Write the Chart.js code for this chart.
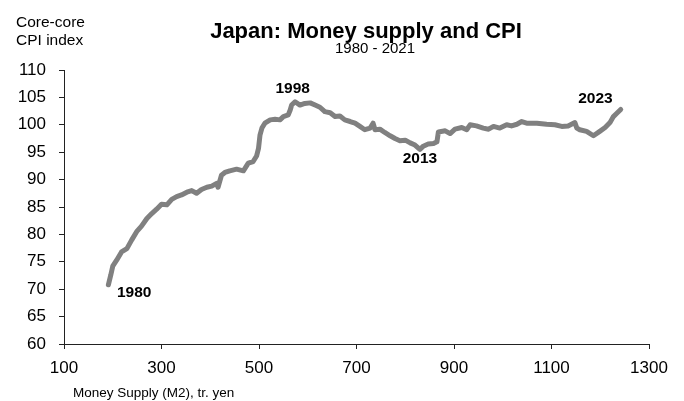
<!DOCTYPE html>
<html>
<head>
<meta charset="utf-8">
<script src="https://cdn.jsdelivr.net/npm/chart.js@4"></script>
<style>
  html, body { margin: 0; padding: 0; background: #fff; }
  #wrap { width: 684px; height: 401px; }
</style>
</head>
<body>
<div id="wrap"><canvas id="cpiChart"></canvas></div>
<script>
// Money supply M2 (tr. yen) against core-core CPI index
const m2 = [191, 196, 200, 208, 218, 229, 239, 249, 259, 270, 280, 290, 300, 311, 321, 331, 341, 352, 362, 372,
    382, 393, 403, 413, 416, 423, 430, 440, 454, 468, 478, 488, 495, 499, 502, 506, 512, 523, 533, 543,
    550, 560, 564, 567, 574, 584, 594, 605, 615, 625, 635, 646, 656, 666, 676, 687, 697, 707, 717, 728,
    734, 738, 748, 758, 769, 779, 789, 800, 810, 820, 830, 837, 847, 858, 865, 868, 882, 892, 902, 916,
    926, 933, 946, 960, 971, 981, 994, 1008, 1018, 1029, 1039, 1049, 1070, 1090, 1107, 1121, 1134, 1148, 1152, 1158,
    1172, 1186, 1199, 1210, 1220, 1227, 1234, 1242];
const cpi = [70.8, 72.6, 74.2, 75.3, 76.8, 77.4, 79.0, 80.5, 81.5, 82.9, 83.8, 84.6, 85.5, 85.4, 86.4, 86.9, 87.2, 87.7, 88.0, 87.5,
    88.2, 88.6, 88.8, 89.3, 88.6, 90.8, 91.3, 91.6, 91.9, 91.6, 93.0, 93.3, 94.3, 95.7, 98.1, 99.4, 100.3, 100.9, 101.0, 100.9,
    101.5, 101.8, 102.7, 103.6, 104.2, 103.6, 103.9, 104.0, 103.6, 103.2, 102.4, 102.2, 101.5, 101.6, 100.9, 100.6, 100.3, 99.7, 99.1, 99.4,
    100.3, 99.1, 99.2, 98.6, 98.0, 97.5, 97.1, 97.2, 96.7, 96.3, 95.5, 96.1, 96.5, 96.6, 96.9, 98.7, 98.9, 98.4, 99.2, 99.5,
    99.1, 100.0, 99.8, 99.4, 99.2, 99.7, 99.4, 100.0, 99.8, 100.1, 100.6, 100.3, 100.3, 100.1, 100.0, 99.7, 99.8, 100.4, 99.4, 99.1,
    98.8, 98.0, 98.8, 99.5, 100.4, 101.5, 102.1, 102.8];

// Year labels and where they sit (in data units)
const yearLabels = ['1980', '1998', '2013', '2023'];
const yearLabelX = [244, 569, 830, 1190];
const yearLabelY = [68.6, 105.75, 93.0, 104.0];

const xTicks = [100, 300, 500, 700, 900, 1100, 1300];

const FONT = "'Liberation Sans', Arial, sans-serif";

const textPlugin = {
    id: 'textPlugin',
    afterDraw(chart) {
        const ctx = chart.ctx;
        const xs = chart.scales.x;
        const ys = chart.scales.y;
        ctx.save();
        ctx.fillStyle = '#000';
        ctx.textBaseline = 'alphabetic';

        // Title and subtitle
        ctx.textAlign = 'center';
        ctx.font = 'bold 22px ' + FONT;
        ctx.fillText('Japan: Money supply and CPI', 366, 38);
        ctx.font = '15px ' + FONT;
        ctx.fillText('1980 - 2021', 375, 53);

        // Axis titles
        ctx.textAlign = 'left';
        ctx.font = '15.5px ' + FONT;
        ctx.fillText('Core-core', 16, 27);
        ctx.fillText('CPI index', 16, 45);
        ctx.font = '13.5px ' + FONT;
        ctx.fillText('Money Supply (M2), tr. yen', 73, 397);

        // Year annotations
        ctx.textAlign = 'center';
        ctx.font = 'bold 15.5px ' + FONT;
        yearLabels.forEach((label, i) => {
            ctx.fillText(label, xs.getPixelForValue(yearLabelX[i]), ys.getPixelForValue(yearLabelY[i]));
        });
        ctx.restore();
    }
};

new Chart(document.getElementById('cpiChart').getContext('2d'), {
    type: 'scatter',
    data: {
        datasets: [{
            data: m2.map((v, i) => ({ x: v, y: cpi[i] })),
            showLine: true,
            borderColor: '#808080',
            borderWidth: 5,
            borderJoinStyle: 'round',
            borderCapStyle: 'round',
            pointRadius: 0,
            tension: 0
        }]
    },
    options: {
        responsive: true,
        maintainAspectRatio: false,
        animation: false,
        layout: { padding: { top: 70, right: 35, left: 0, bottom: 0 } },
        plugins: {
            legend: { display: false },
            tooltip: { enabled: false }
        },
        scales: {
            x: {
                type: 'linear',
                min: 100,
                max: 1300,
                afterFit: (scale) => { scale.height = 57; },
                afterBuildTicks: (scale) => { scale.ticks = xTicks.map(v => ({ value: v })); },
                border: { display: true, color: '#222', width: 1 },
                grid: { drawOnChartArea: false, drawTicks: true, tickLength: 5, color: '#222' },
                ticks: {
                    padding: 9,
                    maxRotation: 0,
                    color: '#000',
                    font: { family: FONT, size: 17 },
                    callback: (value) => String(value)
                }
            },
            y: {
                min: 60,
                max: 110,
                afterFit: (scale) => { scale.width = 64; },
                border: { display: true, color: '#222', width: 1 },
                grid: { drawOnChartArea: false, drawTicks: true, tickLength: 5, color: '#222' },
                ticks: {
                    stepSize: 5,
                    padding: 13,
                    color: '#000',
                    font: { family: FONT, size: 17 },
                    callback: (value) => String(value)
                }
            }
        }
    },
    plugins: [textPlugin]
});
</script>
</body>
</html>
